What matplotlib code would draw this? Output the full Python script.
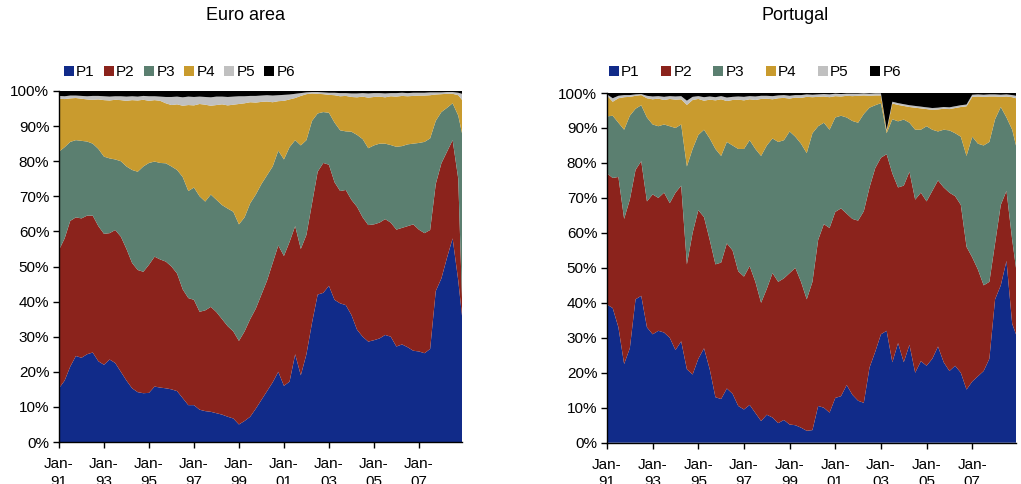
import numpy as np
import matplotlib
matplotlib.use("Agg")
import matplotlib.pyplot as plt
from matplotlib.patches import Patch

plt.rcParams['font.family'] = ['Liberation Sans', 'DejaVu Sans']

# ---------------- data ----------------
# month index from Jan-91 (0) ; readings every quarter + last month (Dec-08)
months = list(range(0, 214, 3)) + [215]

series_names = ["P1", "P2", "P3", "P4", "P5", "P6"]
colors = ["#112B89", "#8B231C", "#5B7F70", "#C99B2E", "#C0C0C0", "#000000"]

tick_months = [0, 24, 48, 72, 96, 120, 144, 168, 192]
tick_labels = ["Jan-\n91", "Jan-\n93", "Jan-\n95", "Jan-\n97", "Jan-\n99",
               "Jan-\n01", "Jan-\n03", "Jan-\n05", "Jan-\n07"]
y_ticks = [0, 10, 20, 30, 40, 50, 60, 70, 80, 90, 100]

# Euro area: upper edge (cumulative %) of P1..P5 ; P6 fills to 100%
ea_top_p1 = [15.3, 17.5, 21.5, 24.5, 24, 25, 25.5, 23, 22, 23.5,
             22.5, 20, 17.5, 15.3, 14.2, 13.9, 14, 15.8, 15.5, 15.3,
             15, 14.5, 12.5, 10.5, 10.5, 9.2, 8.8, 8.6, 8.2, 7.8,
             7.2, 6.7, 5, 6, 7.2, 9.5, 12, 14.5, 17, 20,
             16, 17.2, 25, 19, 25, 34, 42, 42.5, 44.5, 40.5,
             39.5, 39, 36.2, 32, 30, 28.6, 29, 29.5, 30.5, 30,
             27.2, 27.8, 27, 26, 25.8, 25.3, 26.5, 43, 46.6, 52.5,
             58, 46, 36]
ea_top_p2 = [54.7, 58, 63, 64, 63.7, 64.5, 64.5, 61.5, 59.3, 59.5,
             60.4, 58.5, 55, 51, 49, 48.5, 50.5, 52.8, 52, 51.4,
             50, 48, 43.5, 41, 40.5, 37.1, 37.5, 38.5, 37, 35,
             33, 31.5, 28.8, 31.5, 35, 38, 42, 46, 51, 56,
             53, 57, 61.5, 55, 59, 68, 77, 79.5, 79, 74,
             71.5, 71.8, 69, 67, 64, 61.8, 62, 62.5, 63.5, 62.5,
             60.5, 61, 61.5, 62, 60.5, 59.5, 60.4, 73.5, 79.4, 82.7,
             86, 75, 41]
ea_top_p3 = [82.7, 84, 85.5, 86, 85.8, 85.6, 85, 83.5, 81.3, 80.8,
             80.5, 80, 78.5, 77.5, 77, 78.5, 79.5, 79.9, 79.5, 79.4,
             78.5, 77.5, 75.5, 71.5, 72.5, 70, 68.5, 70.5, 69, 67.5,
             66.5, 65.6, 62, 64, 68, 70.5, 73.5, 76, 78.5, 83,
             80.5, 84, 86, 84.5, 86, 91.5, 93.6, 94, 93.8, 91,
             88.8, 88.5, 88.4, 87.5, 86.3, 83.7, 84.5, 85, 85, 84.6,
             84.1, 84.3, 84.8, 85, 85.2, 85.5, 86.5, 91.5, 94, 95.2,
             96.5, 93, 88]
ea_top_p4 = [97.8, 97.7, 97.9, 98, 97.8, 97.6, 97.5, 97.6, 97.4, 97.3,
             97.5, 97.4, 97.2, 97.4, 97.3, 97.5, 97.2, 97.4, 97.2, 96.5,
             96, 96.2, 95.8, 96, 95.9, 96.3, 96.1, 95.8, 96, 96.2,
             95.9, 96.1, 96.3, 96.5, 96.8, 96.7, 96.9, 97, 96.8, 97.1,
             97.2, 97.6, 98, 98.6, 99.1, 99.3, 99.2, 99.1, 98.9, 98.8,
             98.5, 98.6, 98.3, 98.2, 98.4, 98.1, 98.3, 98.4, 98.2, 98.5,
             98.4, 98.6, 98.5, 98.6, 98.7, 98.7, 98.8, 99, 99.1, 99.2,
             99.2, 98.8, 97.5]
ea_top_p5 = [98.6, 98.5, 98.7, 98.7, 98.6, 98.5, 98.6, 98.6, 98.5, 98.4,
             98.5, 98.5, 98.4, 98.5, 98.4, 98.6, 98.5, 98.5, 98.4, 98.3,
             98.3, 98.4, 98.2, 98.4, 98.3, 98.4, 98.3, 98.2, 98.4, 98.4,
             98.3, 98.4, 98.5, 98.5, 98.6, 98.6, 98.7, 98.8, 98.7, 98.8,
             98.9, 99, 99.2, 99.4, 99.6, 99.7, 99.7, 99.6, 99.5, 99.5,
             99.4, 99.4, 99.3, 99.3, 99.4, 99.3, 99.4, 99.4, 99.3, 99.4,
             99.4, 99.5, 99.4, 99.5, 99.5, 99.5, 99.6, 99.6, 99.6, 99.7,
             99.7, 99.5, 99.2]

# Portugal: upper edge (cumulative %) of P1..P5 ; P6 fills to 100%
pt_top_p1 = [39.5, 38.5, 33, 22.5, 27, 41, 42, 33, 31, 32,
             31.5, 30, 26.5, 29, 21, 19.5, 24, 27, 21, 13,
             12.5, 15.5, 14, 10.5, 9.5, 10.8, 8.5, 6.2, 8, 7.2,
             5.6, 6.5, 5.2, 5, 4.3, 3.4, 3.6, 10.5, 10, 8.6,
             12.8, 13.3, 16.5, 13.7, 12, 11.4, 21.5, 26, 31, 32,
             23, 28.5, 23, 28, 20, 23.3, 22, 24, 27.5, 23,
             20.5, 22, 20, 15.2, 17.5, 19, 20.5, 24, 41, 45,
             52, 34, 31]
pt_top_p2 = [77, 75.7, 76, 64, 69.5, 78, 80.5, 69, 71, 70,
             71.5, 68.5, 71.5, 73.5, 51, 60, 66.5, 64.5, 58, 51,
             51.5, 57, 55, 49, 47.5, 50.5, 46, 40, 44, 48.5,
             46, 47, 48.5, 50, 46, 41, 46, 58, 62.5, 61.4,
             66, 67, 65.5, 64, 63.5, 66.2, 73, 78.5, 81.5, 82.5,
             77, 73, 73.5, 77.5, 69.5, 71.5, 69, 72, 75, 73,
             71.5, 70.5, 68, 56, 53, 49.5, 45, 46, 57, 68,
             72, 58, 50]
pt_top_p3 = [93.3, 93.5, 91.5, 89.5, 93.5, 95.5, 96.5, 93, 91, 90.5,
             91, 90.5, 90, 91, 79, 84, 88, 89.5, 87, 84,
             82, 86, 85, 84, 84, 86.5, 84, 82, 85, 87,
             86, 86.5, 89, 87.5, 85.5, 82.8, 88.5, 90.5, 91.5, 89.5,
             93, 93.5, 93, 92, 91.5, 94, 95.8, 96.5, 97.1, 88.5,
             92.5, 91.9, 92.4, 91.5, 89.5, 89.5, 90.5, 89.5, 89, 89.5,
             89.3, 88.5, 87.5, 82, 87.5, 85.5, 85, 86, 92.5, 96,
             93, 89.5, 85]
pt_top_p4 = [99.3, 97.5, 98.5, 98.8, 98.9, 99.2, 99.4, 98.5, 98.2, 98.4,
             98, 98.3, 98.1, 98.2, 96.6, 98, 98.3, 97.8, 98.1, 97.9,
             98.2, 97.7, 98, 98.1, 97.9, 98.2, 98, 98.3, 98.4, 98.2,
             98.5, 98.6, 98.4, 98.7, 98.6, 98.9, 98.8, 98.9, 99, 98.8,
             99.1, 99, 99.2, 99.1, 99.2, 99.3, 99.2, 99.3, 99.3, 89.1,
             97, 96.6, 96.3, 96, 95.8, 95.6, 95.4, 95.2, 95.3, 95.5,
             95.4, 95.7, 96, 96.2, 98.9, 99, 98.9, 99, 99, 98.9,
             99, 98.8, 98.5]
pt_top_p5 = [99.6, 98.5, 99.2, 99.4, 99.4, 99.6, 99.7, 99.2, 99, 99.1,
             98.9, 99.1, 99, 99.1, 97.8, 98.9, 99.1, 98.8, 99, 98.8,
             99.1, 98.7, 98.9, 99, 98.9, 99.1, 99, 99.2, 99.2, 99.1,
             99.3, 99.4, 99.2, 99.4, 99.4, 99.6, 99.5, 99.6, 99.7, 99.6,
             99.8, 99.7, 99.8, 99.8, 99.8, 99.9, 99.8, 99.9, 99.9, 89.5,
             97.5, 97.1, 96.8, 96.5, 96.3, 96.1, 95.9, 95.7, 95.8, 96,
             95.9, 96.2, 96.5, 96.7, 99.5, 99.6, 99.5, 99.6, 99.6, 99.5,
             99.6, 99.4, 99.2]


def shares(tops):
    cum = np.vstack([np.zeros(len(months))] + [np.asarray(t, float) for t in tops]
                    + [np.full(len(months), 100.0)])
    return np.diff(cum, axis=0)


W, H = 1021, 484
fig = plt.figure(figsize=(W / 100, H / 100), dpi=100)

panels = [
    ("Euro area", [ea_top_p1, ea_top_p2, ea_top_p3, ea_top_p4, ea_top_p5],
     (59, 91, 462, 442), 245, 64, 0.6),
    ("Portugal", [pt_top_p1, pt_top_p2, pt_top_p3, pt_top_p4, pt_top_p5],
     (607, 93, 1016, 442.7), 795, 609, 1.4),
]

for title, tops, (x0, y0, x1, y1), tx, lx, colsp in panels:
    ax = fig.add_axes([x0 / W, 1 - y1 / H, (x1 - x0) / W, (y1 - y0) / H])
    ax.stackplot(months, shares(tops), colors=colors, linewidth=0)
    ax.set_xlim(0, 215)
    ax.set_ylim(0, 100)
    ax.set_yticks(y_ticks)
    ax.set_yticklabels([f"{v}%" for v in y_ticks])
    ax.set_xticks(tick_months)
    ax.set_xticklabels(tick_labels, linespacing=1.3)
    for s in ("top", "right"):
        ax.spines[s].set_visible(False)
    for s in ("left", "bottom"):
        ax.spines[s].set_linewidth(1.0)
        ax.spines[s].set_color("black")
    ax.tick_params(axis="both", direction="out", length=4, width=1,
                   labelsize=11, colors="black")
    ax.tick_params(axis="x", pad=7)
    ax.tick_params(axis="y", pad=3)
    fig.text(tx / W, 1 - 16 / H, title, ha="center", va="center", fontsize=13)
    handles = [Patch(facecolor=c, edgecolor="none") for c in colors]
    fig.legend(handles, series_names, loc="center left",
               bbox_to_anchor=(lx / W, 1 - 72 / H), ncol=6, frameon=False,
               fontsize=11, handlelength=0.65, handleheight=0.65,
               handletextpad=0.15, columnspacing=colsp, borderpad=0,
               borderaxespad=0)

fig.savefig("out.png", dpi=100)
